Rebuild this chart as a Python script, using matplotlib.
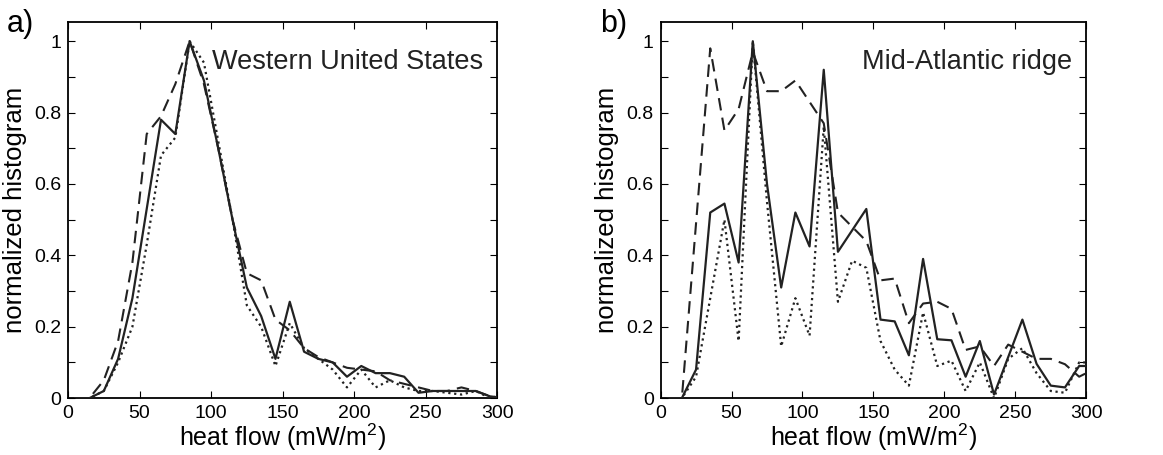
import matplotlib
matplotlib.use("Agg")
import matplotlib.pyplot as plt
import numpy as np

plt.rcParams['font.family'] = ['Liberation Sans', 'DejaVu Sans']
plt.rcParams['mathtext.fontset'] = 'custom'
plt.rcParams['mathtext.rm'] = 'Liberation Sans'
plt.rcParams['mathtext.it'] = 'Liberation Sans'
plt.rcParams['mathtext.default'] = 'regular'

# bin centres (mW/m2)
heat = [5, 15, 25, 35, 45, 55, 65, 75, 85, 95, 105, 115, 125, 135, 145, 155,
        165, 175, 185, 195, 205, 215, 225, 235, 245, 255, 265, 275, 285, 295, 305]

# a) Western United States
wus_solid = [0, 0, 0.02, 0.11, 0.28, 0.53, 0.78, 0.74, 1.0, 0.89, 0.70, 0.50,
             0.31, 0.23, 0.11, 0.27, 0.13, 0.11, 0.10, 0.06, 0.09, 0.07, 0.07,
             0.06, 0.015, 0.02, 0.02, 0.02, 0.02, 0.005, 0.0]
wus_dash = [0, 0, 0.05, 0.16, 0.38, 0.74, 0.79, 0.88, 1.0, 0.88, 0.70, 0.50,
            0.35, 0.33, 0.22, 0.19, 0.14, 0.115, 0.10, 0.085, 0.08, 0.075, 0.05,
            0.04, 0.03, 0.02, 0.02, 0.03, 0.02, 0.005, 0.0]
wus_dot = [0, 0, 0.02, 0.10, 0.20, 0.43, 0.68, 0.73, 1.0, 0.94, 0.72, 0.50,
           0.26, 0.20, 0.09, 0.21, 0.14, 0.11, 0.08, 0.03, 0.08, 0.03, 0.05,
           0.03, 0.02, 0.02, 0.015, 0.01, 0.02, 0.0, 0.01]

# b) Mid-Atlantic ridge
mar_solid = [0, 0, 0.08, 0.52, 0.545, 0.38, 1.0, 0.60, 0.31, 0.52, 0.425, 0.92,
             0.41, 0.47, 0.53, 0.22, 0.215, 0.12, 0.39, 0.165, 0.162, 0.06, 0.16,
             0.01, 0.115, 0.22, 0.096, 0.035, 0.03, 0.09, 0.09]
mar_dash = [0, 0, 0.49, 0.98, 0.75, 0.81, 0.97, 0.86, 0.86, 0.89, 0.83, 0.77,
            0.52, 0.48, 0.44, 0.33, 0.335, 0.21, 0.265, 0.27, 0.25, 0.135, 0.145,
            0.09, 0.15, 0.13, 0.11, 0.11, 0.095, 0.06, 0.08]
mar_dot = [0, 0, 0.06, 0.28, 0.50, 0.16, 1.0, 0.55, 0.145, 0.28, 0.175, 0.76,
           0.27, 0.385, 0.365, 0.16, 0.08, 0.035, 0.24, 0.09, 0.105, 0.02, 0.10,
           0.0, 0.11, 0.14, 0.07, 0.02, 0.015, 0.10, 0.10]

xticks = [0, 50, 100, 150, 200, 250, 300]
yticks = [0, 0.1, 0.2, 0.3, 0.4, 0.5, 0.6, 0.7, 0.8, 0.9, 1.0]
ylabels = ['0', '', '0.2', '', '0.4', '', '0.6', '', '0.8', '', '1']

fig = plt.figure(figsize=(11.63, 4.55), dpi=100)
ax1 = fig.add_axes([0.0585, 0.125, 0.369, 0.826])
ax2 = fig.add_axes([0.568, 0.125, 0.366, 0.826])

lc = '#222222'
panels = [(ax1, wus_solid, wus_dash, wus_dot, 'Western United States', 'a)', 0.006),
          (ax2, mar_solid, mar_dash, mar_dot, 'Mid-Atlantic ridge', 'b)', 0.516)]

for ax, s, d, o, name, lab, lx in panels:
    ax.plot(heat, s, '-', color=lc, lw=1.6, zorder=3)
    ax.plot(heat, d, '--', color=lc, lw=1.5, dashes=(6, 3.5), zorder=3)
    ax.plot(heat, o, ':', color=lc, lw=1.6, zorder=3)
    ax.set_xlim(0, 300)
    ax.set_ylim(0, 1.053)
    ax.set_xticks(xticks)
    ax.set_yticks(yticks)
    ax.set_yticklabels(ylabels)
    ax.tick_params(direction='in', top=True, right=True, length=5, width=0.8,
                   labelsize=14, pad=5, colors='black')
    for sp in ax.spines.values():
        sp.set_linewidth(1.3)
    ax.set_xlabel('heat flow (mW/m$^2$)', fontsize=18, labelpad=0)
    ax.set_ylabel('normalized histogram', fontsize=18.5, labelpad=5)
    ax.text(0.967, 0.895, name, transform=ax.transAxes, ha='right', va='center',
            fontsize=19.5, color='#222222')
    fig.text(lx, 0.98, lab, ha='left', va='top', fontsize=22)

fig.savefig('out.png', dpi=100)
